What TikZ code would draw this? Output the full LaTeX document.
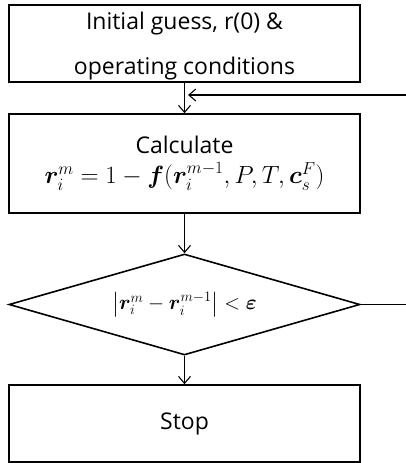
\documentclass[tikz,border=0pt]{standalone}
\usepackage{fontspec}
\usepackage{amsmath,bm}
\setmainfont{Open Sans}
\usetikzlibrary{arrows.meta,shapes.geometric}
\begin{document}
\begin{tikzpicture}[x=1pt,y=-1pt,
  box/.style={draw,line width=1.6pt,minimum width=351pt,inner sep=0pt,align=center,font=\fontsize{23}{45}\selectfont},
  txt/.style={inner sep=0pt,align=center,font=\fontsize{23}{45}\selectfont},
  conn/.style={line width=1.1pt,-{Straight Barb[length=7pt,width=12pt,line width=1.1pt]}},
  plain/.style={line width=1.1pt}]
\useasboundingbox (0,0) rectangle (406,463);
\node[box,minimum height=77pt] (init) at (184.5,43.5) {};
\node[txt,anchor=base] (initt) at (184.5,74) {Initial guess,\ r(0) \&\\operating conditions};
\node[box,minimum height=99pt] (calc) at (184.5,163.5) {Calculate\\[-15pt]{\fontsize{27}{30}\selectfont$\bm{r}^{m}_{i}=1-\bm{f}(\bm{r}^{m-1}_{i},P,T,\bm{c}^{F}_{s})$}};
\node[draw,line width=1.6pt,diamond,aspect=3.5,minimum width=351pt,minimum height=101pt,inner sep=0pt,font=\fontsize{21}{24}\selectfont] (dec) at (184.5,304.5) {$\left|\bm{r}^{m}_{i}-\bm{r}^{m-1}_{i}\right|<\bm{\varepsilon}$};
\node[box,minimum height=77pt] (stop) at (184.5,423.5) {Stop};
\coordinate (fb) at (406,95);
\coordinate (out) at (406,304.5);
\draw[conn] (init) -- (calc);
\draw[conn] (calc) -- (dec);
\draw[conn] (dec) -- (stop);
\draw[plain] (dec.east) -- (out);
\draw[conn] (fb) -- (188,95);
\end{tikzpicture}
\end{document}
